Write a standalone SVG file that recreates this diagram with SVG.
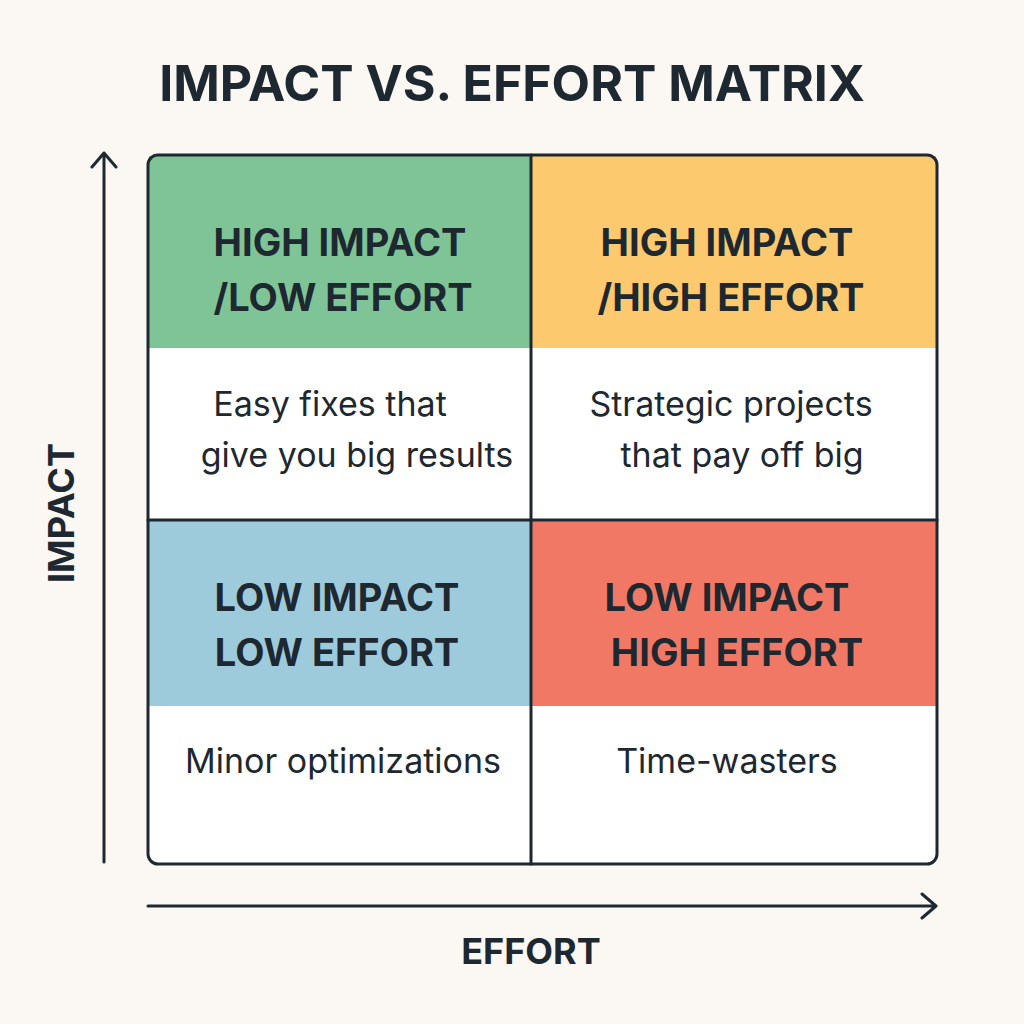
<svg xmlns="http://www.w3.org/2000/svg" width="1024" height="1024" viewBox="0 0 1024 1024">
<style>
.h{font-family:"Inter","Liberation Sans",sans-serif;font-weight:700;font-size:38px;fill:#1E2830;text-anchor:middle}
.b{font-family:"Inter","Liberation Sans",sans-serif;font-size:34px;fill:#1E2830;text-anchor:middle}
.ax{stroke:#1E2830;stroke-width:3;fill:none;stroke-linecap:round;stroke-linejoin:round}
</style>
<rect width="1024" height="1024" fill="#FBF8F4"/>
<text x="512" y="101" class="h" style="font-size:50px">IMPACT VS. EFFORT MATRIX</text>
<g id="q1"><rect x="149" y="156" width="382" height="192" fill="#7FC497"/><rect x="149" y="348" width="382" height="172" fill="#fff"/>
<text x="340" y="256" class="h">HIGH IMPACT</text><text x="343" y="311" class="h">/LOW EFFORT</text>
<text x="330" y="416" class="b">Easy fixes that</text><text x="357" y="467" class="b">give you big results</text></g>
<g id="q2"><rect x="531" y="156" width="405" height="192" fill="#FDC96E"/><rect x="531" y="348" width="405" height="172" fill="#fff"/>
<text x="727" y="256" class="h">HIGH IMPACT</text><text x="731" y="311" class="h">/HIGH EFFORT</text>
<text x="731" y="416" class="b">Strategic projects</text><text x="742" y="467" class="b">that pay off big</text></g>
<g id="q3"><rect x="149" y="520" width="382" height="186" fill="#9DCBDC"/><rect x="149" y="706" width="382" height="157" fill="#fff"/>
<text x="337" y="611" class="h">LOW IMPACT</text><text x="337" y="666" class="h">LOW EFFORT</text>
<text x="343" y="773" class="b">Minor optimizations</text></g>
<g id="q4"><rect x="531" y="520" width="405" height="186" fill="#F27866"/><rect x="531" y="706" width="405" height="157" fill="#fff"/>
<text x="727" y="611" class="h">LOW IMPACT</text><text x="737" y="666" class="h">HIGH EFFORT</text>
<text x="727" y="773" class="b">Time-wasters</text></g>
<g id="connectors">
<rect x="148" y="155" width="789" height="709" rx="10" class="ax"/>
<line x1="531" y1="155" x2="531" y2="864" class="ax"/>
<line x1="148" y1="520" x2="937" y2="520" class="ax"/>
<path d="M104 862V153M92 167L104 153L116 167" class="ax"/>
<path d="M148 906H936M922 894L936 906L922 918" class="ax"/>
</g>
<text x="531" y="964" class="h" style="font-size:36px">EFFORT</text>
<text transform="translate(74 513) rotate(-90)" class="h" style="font-size:36px">IMPACT</text>
</svg>
